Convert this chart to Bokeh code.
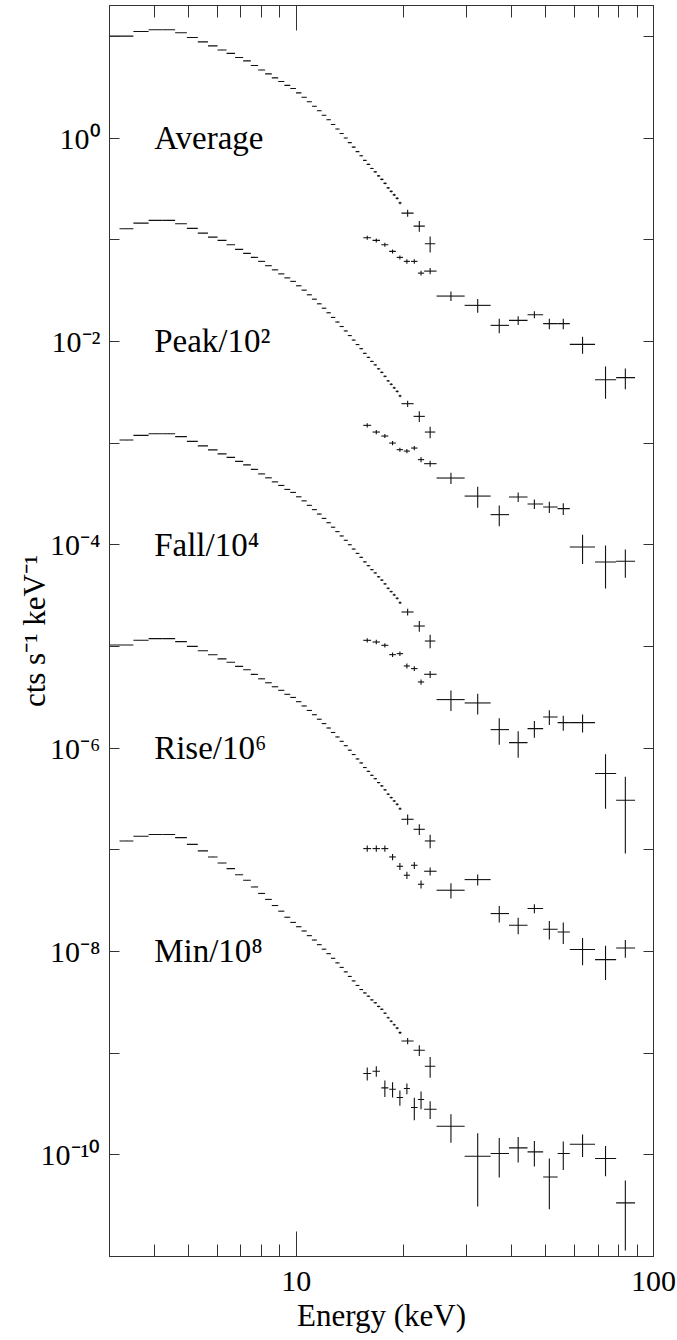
from bokeh.plotting import figure
from bokeh.models import ColumnDataSource, FixedTicker, LogAxis, CustomJSTickFormatter
from bokeh.core.properties import value
from bokeh.embed import file_html
from bokeh.resources import INLINE

# ---------------- data ----------------
# PCA channel edges (keV), shared by all five spectra
pca_edges = [3.0, 3.5, 3.86, 4.22, 4.58, 4.94, 5.30, 5.66, 6.02, 6.38, 6.74, 7.10,
             7.46, 7.82, 8.18, 8.54, 8.90, 9.26, 9.62, 9.98, 10.34, 10.70, 11.06,
             11.42, 11.78, 12.14, 12.50, 12.86, 13.22, 13.58, 13.94, 14.30, 14.66,
             15.02, 15.38, 15.74, 16.10, 16.46, 16.82, 17.18, 17.54, 17.90, 18.26,
             18.62, 18.98, 19.34, 19.70, 21.30, 22.90, 24.50]
# fractional errors of the narrow PCA channels (first 46 bins)
pca_frac_err = [0.002, 0.002, 0.002, 0.002, 0.002, 0.002, 0.002, 0.002, 0.002, 0.002,
                0.003, 0.003, 0.003, 0.003, 0.003, 0.003, 0.003, 0.004, 0.004, 0.004,
                0.004, 0.005, 0.005, 0.005, 0.006, 0.006, 0.006, 0.007, 0.007, 0.008,
                0.008, 0.009, 0.010, 0.011, 0.012, 0.013, 0.014, 0.015, 0.016, 0.018,
                0.019, 0.020, 0.022, 0.024, 0.026, 0.028]

# HEXTE bins (keV)
hx_e = [15.8, 16.75, 17.7, 18.6, 19.5, 20.4, 21.4, 22.35, 23.7, 27.1, 32.2, 37.0,
        41.8, 46.4, 51.1, 55.9, 63.3, 73.4, 83.4]
hx_lo = [15.4, 16.35, 17.3, 18.2, 19.1, 20.0, 20.95, 21.9, 22.8, 24.7, 29.6, 35.0,
         39.4, 44.4, 49.1, 53.9, 58.3, 68.6, 78.6]
hx_hi = [16.2, 17.15, 18.1, 19.0, 19.9, 20.8, 21.85, 22.8, 24.7, 29.6, 35.0, 39.4,
         44.4, 49.1, 53.9, 58.3, 68.6, 78.6, 88.8]

# Average
avg_pca = [10.05, 11.17, 11.61, 11.61, 10.85, 9.75, 8.81, 8.05, 7.35, 6.79,
           6.20, 5.73, 5.17, 4.67, 4.27, 3.90, 3.60, 3.29, 3.07, 2.78,
           2.52, 2.27, 2.055, 1.851, 1.672, 1.510, 1.360, 1.226, 1.107, 1.000,
           0.901, 0.814, 0.735, 0.670, 0.602, 0.550, 0.502, 0.464, 0.424, 0.392,
           0.358, 0.323, 0.2985, 0.276, 0.2547, 0.230, 0.1826, 0.1361, 0.0913]
avg_pca_end_err = [0.078, 0.12, 0.18]
avg_hx = [0.1046, 0.0984, 0.0893, 0.0767, 0.0670, 0.0612, 0.0612, 0.0469, 0.0491,
          0.0279, 0.0226, 0.01437, 0.01609, 0.01830, 0.01493, 0.01493, 0.00934,
          0.00420, 0.00440]
avg_hx_err = [0.046, 0.046, 0.046, 0.046, 0.046, 0.05, 0.05, 0.055, 0.07, 0.107,
              0.153, 0.164, 0.10, 0.078, 0.12, 0.12, 0.19, 0.35, 0.23]

# Peak
peak_pca = [12.83, 14.56, 15.48, 15.48, 14.37, 12.92, 11.61, 10.61, 9.84, 8.93,
            8.03, 7.33, 6.70, 6.12, 5.55, 5.05, 4.61, 4.21, 3.89, 3.52,
            3.19, 2.87, 2.60, 2.34, 2.12, 1.91, 1.72, 1.55, 1.40, 1.266,
            1.140, 1.030, 0.930, 0.848, 0.762, 0.696, 0.635, 0.587, 0.537, 0.496,
            0.453, 0.409, 0.378, 0.349, 0.322, 0.291, 0.2439, 0.1830, 0.1283]
peak_pca_end_err = [0.07, 0.12, 0.13]
peak_hx = [0.1493, 0.1283, 0.1172, 0.1000, 0.0861, 0.0834, 0.0893, 0.0687, 0.0627,
           0.0453, 0.0301, 0.01977, 0.02944, 0.02513, 0.02348, 0.02264, 0.00949,
           0.00676, 0.00687]
peak_hx_err = [0.046, 0.046, 0.046, 0.046, 0.046, 0.046, 0.046, 0.06, 0.07, 0.128,
               0.232, 0.232, 0.107, 0.107, 0.128, 0.133, 0.32, 0.45, 0.31]

# Fall
fall_pca = [10.70, 11.90, 12.36, 12.36, 11.56, 10.38, 9.38, 8.57, 7.83, 7.23,
            6.60, 6.10, 5.51, 4.97, 4.55, 4.15, 3.83, 3.50, 3.27, 2.96,
            2.70, 2.44, 2.215, 2.003, 1.816, 1.646, 1.488, 1.346, 1.220, 1.106,
            1.000, 0.907, 0.822, 0.752, 0.678, 0.622, 0.569, 0.528, 0.484, 0.449,
            0.412, 0.373, 0.346, 0.321, 0.297, 0.269, 0.2180, 0.1587, 0.1130]
fall_pca_end_err = [0.078, 0.12, 0.153]
fall_hx = [0.1148, 0.1105, 0.1025, 0.0830, 0.0849, 0.0642, 0.0605, 0.0447, 0.0532,
           0.0300, 0.0278, 0.01520, 0.01133, 0.01555, 0.02021, 0.01781, 0.01781,
           0.00562, 0.00307]
fall_hx_err = [0.05, 0.05, 0.05, 0.05, 0.05, 0.055, 0.055, 0.06, 0.08, 0.23,
               0.23, 0.29, 0.29, 0.185, 0.165, 0.17, 0.20, 0.55, 0.70]

# Rise
rise_pca = [10.33, 11.48, 11.93, 11.93, 11.15, 10.02, 9.05, 8.27, 7.55, 6.98,
            6.37, 5.89, 5.31, 4.80, 4.39, 4.01, 3.70, 3.38, 3.15, 2.86,
            2.596, 2.345, 2.129, 1.923, 1.742, 1.576, 1.424, 1.287, 1.166, 1.056,
            0.953, 0.864, 0.782, 0.715, 0.644, 0.590, 0.540, 0.500, 0.458, 0.425,
            0.389, 0.352, 0.326, 0.302, 0.280, 0.253, 0.1995, 0.1590, 0.1221]
rise_pca_end_err = [0.115, 0.12, 0.153]
rise_hx = [0.1027, 0.1027, 0.1027, 0.0850, 0.0688, 0.0562, 0.0704, 0.0458, 0.0615,
           0.0400, 0.0509, 0.02359, 0.01810, 0.02642, 0.01653, 0.01555, 0.01044,
           0.00832, 0.01082]
rise_hx_err = [0.07, 0.07, 0.07, 0.07, 0.08, 0.08, 0.08, 0.09, 0.09, 0.17,
               0.125, 0.185, 0.185, 0.10, 0.207, 0.24, 0.30, 0.37, 0.20]

# Min
min_pca = [12.21, 13.57, 14.11, 14.11, 13.18, 11.30, 9.75, 8.50, 7.40, 6.52,
           5.69, 5.01, 4.31, 3.72, 3.25, 2.83, 2.49, 2.17, 1.93, 1.75,
           1.59, 1.43, 1.295, 1.166, 1.053, 0.951, 0.857, 0.772, 0.697, 0.630,
           0.568, 0.513, 0.463, 0.422, 0.391, 0.363, 0.334, 0.313, 0.288, 0.270,
           0.247, 0.223, 0.206, 0.190, 0.176, 0.159, 0.1318, 0.1068, 0.0743]
min_pca_end_err = [0.07, 0.12, 0.23]
min_hx = [0.0630, 0.0664, 0.0455, 0.0442, 0.0366, 0.0449, 0.0292, 0.0350, 0.0281,
          0.0191, 0.00969, 0.01030, 0.01169, 0.01068, 0.00606, 0.01030, 0.01271,
          0.00920, 0.00337]
min_hx_err = [0.145, 0.12, 0.185, 0.17, 0.17, 0.12, 0.25, 0.20, 0.20, 0.31,
              0.68, 0.42, 0.28, 0.28, 0.52, 0.31, 0.25, 0.33, 0.66]

spectrum_names = ["Average", "Peak", "Fall", "Rise", "Min"]
spectrum_divisors = [1.0, 1e2, 1e4, 1e6, 1e8]
spectrum_first_lo = [3.0, 3.2, 3.2, 3.0, 3.2]
spectrum_labels = ["Average", "Peak/10\u00b2", "Fall/10\u2074", "Rise/10\u2076", "Min/10\u2078"]

# axis ticks and labels
x_major = [10, 100]
x_major_labels = ["10", "100"]
x_minor = [4, 5, 6, 7, 8, 9, 20, 30, 40, 50, 60, 70, 80, 90]
y_exps = [1, 0, -1, -2, -3, -4, -5, -6, -7, -8, -9, -10, -11]
y_labels = ["", "10\u2070", "", "10\u207b\u00b2", "", "10\u207b\u2074", "",
            "10\u207b\u2076", "", "10\u207b\u2078", "", "10\u207b\u00b9\u2070", ""]

# ---------------- build segments ----------------
pca_sets = [(avg_pca, avg_pca_end_err, avg_hx, avg_hx_err),
            (peak_pca, peak_pca_end_err, peak_hx, peak_hx_err),
            (fall_pca, fall_pca_end_err, fall_hx, fall_hx_err),
            (rise_pca, rise_pca_end_err, rise_hx, rise_hx_err),
            (min_pca, min_pca_end_err, min_hx, min_hx_err)]

x0, y0, x1, y1 = [], [], [], []
for (pca, pca_end, hx, hx_err), div, lo0 in zip(pca_sets, spectrum_divisors, spectrum_first_lo):
    errs = pca_frac_err + pca_end
    for i, v in enumerate(pca):
        lo = lo0 if i == 0 else pca_edges[i]
        hi = pca_edges[i + 1]
        c = 0.5 * (lo + hi)
        val = v / div
        e = errs[i] * val
        x0 += [lo, c]; x1 += [hi, c]
        y0 += [val, val - e]; y1 += [val, val + e]
    for i, v in enumerate(hx):
        val = v / div
        e = hx_err[i] * val
        x0 += [hx_lo[i], hx_e[i]]; x1 += [hx_hi[i], hx_e[i]]
        y0 += [val, val - e]; y1 += [val, val + e]

src = ColumnDataSource(dict(x0=x0, y0=y0, x1=x1, y1=y1))

# ---------------- figure ----------------
SERIF = "Liberation Serif"
INK = "#111111"
AX = "#333333"

p = figure(width=677, height=1340, x_axis_type="log", y_axis_type="log",
           x_range=(3, 100), y_range=(1e-11, 20.1),
           output_backend="svg", toolbar_location=None,
           min_border_left=109, min_border_right=24, min_border_top=5, min_border_bottom=84)
p.grid.visible = False
p.outline_line_color = AX
p.outline_line_width = 1
p.background_fill_color = "white"
p.border_fill_color = "white"

p.segment(x0="x0", y0="y0", x1="x1", y1="y1", source=src, line_color=INK, line_width=1.1)

p.text(x=[4.0] * 5, y=[1.0, 1e-2, 1e-4, 1e-6, 1e-8], text=spectrum_labels,
       text_font=value(SERIF), text_font_size="33px", text_color="black",
       text_align="left", text_baseline="alphabetic")

x_fmt = CustomJSTickFormatter(args=dict(vals=x_major, labels=x_major_labels), code="""
    for (let i = 0; i < vals.length; i++) {
        if (Math.abs(vals[i] - tick) < 1e-6 * vals[i]) { return labels[i]; }
    }
    return "";
""")
y_fmt = CustomJSTickFormatter(args=dict(exps=y_exps, labels=y_labels), code="""
    const e = Math.round(Math.log10(tick));
    const i = exps.indexOf(e);
    return i >= 0 ? labels[i] : "";
""")
blank_fmt = CustomJSTickFormatter(code="return '';")

def style_axis(ax, xdir):
    ax.axis_line_color = AX
    ax.axis_line_width = 1
    ax.major_tick_line_color = AX
    ax.minor_tick_line_color = AX
    ax.major_tick_out = 0
    ax.minor_tick_out = 0
    if xdir:
        ax.major_tick_in = 25
        ax.minor_tick_in = 12
    else:
        ax.major_tick_in = 10
        ax.minor_tick_in = 0

xax = p.xaxis[0]
xax.ticker = FixedTicker(ticks=x_major, minor_ticks=x_minor)
xax.formatter = x_fmt
style_axis(xax, True)
xax.major_label_text_font = SERIF
xax.major_label_text_font_size = "30px"
xax.major_label_text_color = "black"
xax.major_label_standoff = 15
xax.axis_label = "Energy (keV)"
xax.axis_label_text_font = SERIF
xax.axis_label_text_font_size = "31px"
xax.axis_label_text_font_style = "normal"
xax.axis_label_text_color = "black"
xax.axis_label_standoff = 4

yax = p.yaxis[0]
yax.ticker = FixedTicker(ticks=[10.0 ** e for e in y_exps], minor_ticks=[])
yax.formatter = y_fmt
style_axis(yax, False)
yax.major_label_text_font = SERIF
yax.major_label_text_font_size = "30px"
yax.major_label_text_color = "black"
yax.major_label_standoff = 9
yax.axis_label = "cts s\u207b\u00b9 keV\u207b\u00b9"
yax.axis_label_text_font = SERIF
yax.axis_label_text_font_size = "31px"
yax.axis_label_text_font_style = "normal"
yax.axis_label_text_color = "black"
yax.axis_label_standoff = -14

top = LogAxis(ticker=FixedTicker(ticks=x_major, minor_ticks=x_minor), formatter=blank_fmt,
              major_label_text_font_size="0px", major_label_standoff=0)
style_axis(top, True)
p.add_layout(top, "above")

right = LogAxis(ticker=FixedTicker(ticks=[10.0 ** e for e in y_exps], minor_ticks=[]),
                formatter=blank_fmt, major_label_text_font_size="0px", major_label_standoff=0)
style_axis(right, False)
p.add_layout(right, "right")

open("out.html", "w").write(file_html(p, INLINE))
